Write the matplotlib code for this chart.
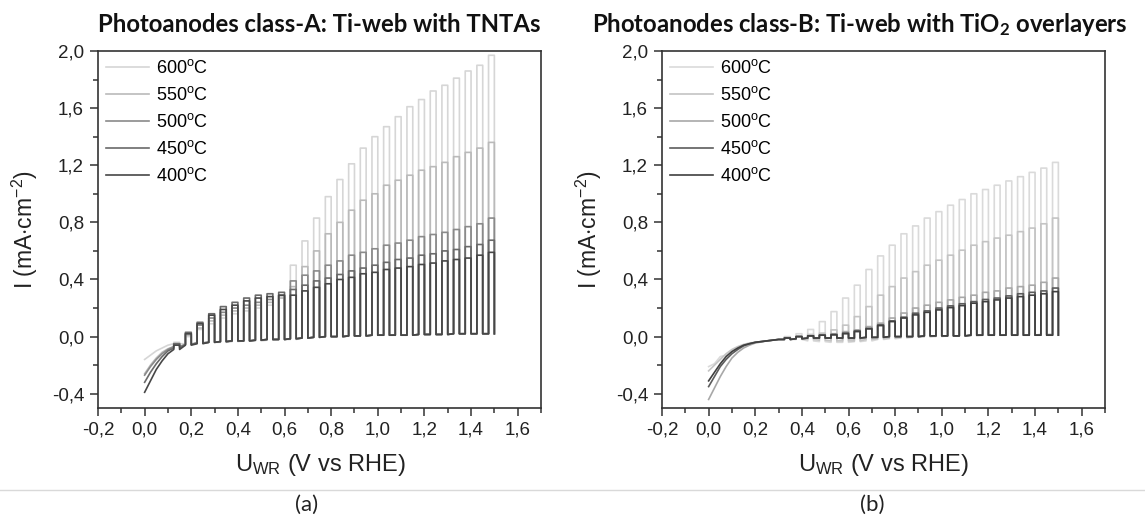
import matplotlib
matplotlib.use("Agg")
import matplotlib.pyplot as plt
from matplotlib.lines import Line2D
from matplotlib.ticker import MultipleLocator, FuncFormatter

plt.rcParams["font.family"] = ["Liberation Sans", "DejaVu Sans"]
plt.rcParams["mathtext.fontset"] = "custom"
plt.rcParams["mathtext.rm"] = "Liberation Sans"
plt.rcParams["mathtext.it"] = "Liberation Sans:italic"
plt.rcParams["mathtext.bf"] = "Lato:bold"

# Chopped illumination: light switched on at each voltage below for 0.025 V
chop_on = [0.025, 0.075, 0.125, 0.175, 0.225, 0.275, 0.325, 0.375, 0.425, 0.475,
           0.525, 0.575, 0.625, 0.675, 0.725, 0.775, 0.825, 0.875, 0.925, 0.975,
           1.025, 1.075, 1.125, 1.175, 1.225, 1.275, 1.325, 1.375, 1.425, 1.475]
chop_width = 0.025

temps = ["600", "550", "500", "450", "400"]

# ---- class-A (Ti-web with TNTAs), mA/cm2 ----
# continuous part of the sweep before chopping shows up
a_sweep_v = [0.0, 0.025, 0.05, 0.075, 0.1]
a_sweep_600 = [-0.16, -0.13, -0.10, -0.08, -0.06]
a_sweep_550 = [-0.26, -0.20, -0.15, -0.11, -0.085]
a_sweep_500 = [-0.27, -0.21, -0.16, -0.12, -0.09]
a_sweep_450 = [-0.32, -0.25, -0.19, -0.14, -0.10]
a_sweep_400 = [-0.39, -0.31, -0.23, -0.17, -0.12]
a_first = 2  # first chop cycle drawn (0.125 V)

# light-on / dark current for each chop cycle from 0.125 V
a_on_600 = [-0.04, 0.00, 0.05, 0.09, 0.13, 0.16, 0.18, 0.20, 0.22, 0.28, 0.50, 0.67, 0.83,
            0.98, 1.10, 1.21, 1.32, 1.40, 1.47, 1.54, 1.61, 1.66, 1.72, 1.76, 1.81, 1.86, 1.90, 1.97]
a_off_600 = [-0.05, -0.05, -0.04, -0.04, -0.04, -0.035, -0.03, -0.03, -0.025, -0.02, -0.02, -0.01, -0.005,
             0.0, 0.0, 0.005, 0.005, 0.01, 0.01, 0.01, 0.01, 0.015, 0.015, 0.015, 0.02, 0.02, 0.02, 0.02]
a_on_550 = [-0.05, 0.01, 0.06, 0.11, 0.15, 0.18, 0.20, 0.22, 0.24, 0.27, 0.35, 0.49, 0.60,
            0.72, 0.80, 0.885, 0.955, 1.00, 1.06, 1.095, 1.13, 1.165, 1.19, 1.22, 1.26, 1.29, 1.32, 1.36]
a_off_550 = [-0.07, -0.055, -0.045, -0.04, -0.035, -0.03, -0.03, -0.025, -0.02, -0.02, -0.015, -0.01, -0.005,
             0.0, 0.0, 0.005, 0.005, 0.01, 0.01, 0.01, 0.01, 0.015, 0.015, 0.015, 0.02, 0.02, 0.02, 0.02]
a_on_500 = [-0.05, 0.02, 0.08, 0.13, 0.17, 0.20, 0.22, 0.24, 0.26, 0.29, 0.39, 0.43, 0.46,
            0.50, 0.53, 0.57, 0.59, 0.615, 0.64, 0.655, 0.675, 0.70, 0.715, 0.73, 0.75, 0.77, 0.79, 0.83]
a_off_500 = [-0.07, -0.055, -0.045, -0.04, -0.035, -0.03, -0.03, -0.025, -0.02, -0.02, -0.015, -0.01, -0.005,
             0.0, 0.0, 0.005, 0.005, 0.01, 0.01, 0.01, 0.01, 0.015, 0.015, 0.015, 0.02, 0.02, 0.02, 0.02]
a_on_450 = [-0.05, 0.03, 0.10, 0.16, 0.21, 0.24, 0.27, 0.29, 0.30, 0.31, 0.33, 0.36, 0.39,
            0.41, 0.435, 0.46, 0.48, 0.50, 0.52, 0.54, 0.55, 0.57, 0.58, 0.60, 0.61, 0.63, 0.645, 0.675]
a_off_450 = [-0.08, -0.055, -0.045, -0.04, -0.035, -0.03, -0.03, -0.025, -0.02, -0.02, -0.015, -0.01, -0.005,
             0.0, 0.0, 0.005, 0.005, 0.01, 0.01, 0.01, 0.01, 0.015, 0.015, 0.015, 0.02, 0.02, 0.02, 0.02]
a_on_400 = [-0.06, 0.02, 0.09, 0.15, 0.19, 0.22, 0.25, 0.27, 0.28, 0.29, 0.29, 0.32, 0.345,
            0.37, 0.40, 0.415, 0.44, 0.45, 0.47, 0.48, 0.49, 0.505, 0.515, 0.53, 0.54, 0.55, 0.57, 0.59]
a_off_400 = [-0.09, -0.06, -0.05, -0.04, -0.035, -0.03, -0.03, -0.025, -0.02, -0.02, -0.015, -0.01, -0.005,
             0.0, 0.0, 0.005, 0.005, 0.01, 0.01, 0.01, 0.01, 0.015, 0.015, 0.015, 0.02, 0.02, 0.02, 0.02]

# ---- class-B (Ti-web with TiO2 overlayers), mA/cm2 ----
b_sweep_v = [0.0, 0.025, 0.05, 0.075, 0.1, 0.125, 0.15, 0.175, 0.2, 0.25, 0.3]
b_sweep_600 = [-0.21, -0.19, -0.14, -0.13, -0.10, -0.08, -0.06, -0.05, -0.04, -0.03, -0.02]
b_sweep_550 = [-0.24, -0.20, -0.16, -0.12, -0.09, -0.07, -0.055, -0.045, -0.04, -0.03, -0.02]
b_sweep_500 = [-0.44, -0.36, -0.28, -0.21, -0.15, -0.11, -0.08, -0.06, -0.045, -0.03, -0.02]
b_sweep_450 = [-0.35, -0.28, -0.21, -0.16, -0.12, -0.09, -0.065, -0.05, -0.04, -0.03, -0.02]
b_sweep_400 = [-0.31, -0.25, -0.19, -0.14, -0.105, -0.08, -0.06, -0.05, -0.04, -0.03, -0.02]
b_first = 6  # first chop cycle drawn (0.325 V)

b_on_600 = [0.0, 0.02, 0.05, 0.105, 0.175, 0.27, 0.36, 0.47, 0.565,
            0.64, 0.72, 0.775, 0.83, 0.875, 0.92, 0.96, 1.00, 1.03, 1.06, 1.09, 1.12, 1.15, 1.18, 1.22]
b_off_600 = [-0.02, -0.02, -0.03, -0.035, -0.04, -0.04, -0.035, -0.03, -0.02,
             -0.015, -0.01, -0.005, 0.0, 0.0, 0.005, 0.005, 0.005, 0.01, 0.01, 0.01, 0.01, 0.01, 0.015, 0.015]
b_on_550 = [-0.005, 0.005, 0.015, 0.024, 0.047, 0.08, 0.14, 0.21, 0.29,
            0.35, 0.41, 0.455, 0.50, 0.535, 0.57, 0.605, 0.64, 0.665, 0.69, 0.71, 0.735, 0.76, 0.79, 0.83]
b_off_550 = [-0.02, -0.015, -0.02, -0.025, -0.03, -0.03, -0.03, -0.02, -0.015,
             -0.01, -0.005, 0.0, 0.0, 0.005, 0.005, 0.005, 0.01, 0.01, 0.01, 0.01, 0.01, 0.01, 0.015, 0.015]
b_on_500 = [-0.01, 0.0, 0.005, 0.01, 0.02, 0.035, 0.047, 0.07, 0.094,
            0.13, 0.165, 0.20, 0.22, 0.24, 0.257, 0.275, 0.29, 0.31, 0.32, 0.34, 0.35, 0.36, 0.38, 0.41]
b_off_500 = [-0.02, -0.015, -0.01, -0.01, -0.01, -0.015, -0.015, -0.01, -0.005,
             0.0, 0.0, 0.0, 0.005, 0.005, 0.005, 0.005, 0.01, 0.01, 0.01, 0.01, 0.01, 0.01, 0.01, 0.01]
b_on_450 = [-0.01, 0.0, 0.005, 0.01, 0.015, 0.025, 0.04, 0.058, 0.082,
            0.11, 0.136, 0.164, 0.18, 0.20, 0.215, 0.23, 0.245, 0.26, 0.27, 0.285, 0.30, 0.31, 0.32, 0.34]
b_off_450 = [-0.02, -0.015, -0.01, -0.01, -0.01, -0.01, -0.01, -0.005, -0.005,
             0.0, 0.0, 0.0, 0.005, 0.005, 0.005, 0.005, 0.01, 0.01, 0.01, 0.01, 0.01, 0.01, 0.01, 0.01]
b_on_400 = [-0.01, 0.0, 0.005, 0.01, 0.012, 0.02, 0.035, 0.054, 0.077,
            0.105, 0.13, 0.152, 0.17, 0.187, 0.203, 0.217, 0.234, 0.245, 0.257, 0.27, 0.28, 0.29, 0.30, 0.315]
b_off_400 = [-0.02, -0.015, -0.01, -0.01, -0.01, -0.01, -0.01, -0.005, -0.005,
             0.0, 0.0, 0.0, 0.005, 0.005, 0.005, 0.005, 0.01, 0.01, 0.01, 0.01, 0.01, 0.01, 0.01, 0.01]

a_sweep = [a_sweep_600, a_sweep_550, a_sweep_500, a_sweep_450, a_sweep_400]
a_on = [a_on_600, a_on_550, a_on_500, a_on_450, a_on_400]
a_off = [a_off_600, a_off_550, a_off_500, a_off_450, a_off_400]
b_sweep = [b_sweep_600, b_sweep_550, b_sweep_500, b_sweep_450, b_sweep_400]
b_on = [b_on_600, b_on_550, b_on_500, b_on_450, b_on_400]
b_off = [b_off_600, b_off_550, b_off_500, b_off_450, b_off_400]

a_colors = ["#d6d6d6", "#bababa", "#8a8a8a", "#6a6a6a", "#474747"]
b_colors = ["#dadada", "#c4c4c4", "#a8a8a8", "#5c5c5c", "#404040"]


def chopped_trace(sweep_v, sweep_i, first, on, off):
    # smooth dark sweep, then square-wave path: dark level, photocurrent, dark
    v = list(sweep_v)
    i = list(sweep_i)
    for k, t0 in enumerate(chop_on[first:]):
        t1 = t0 + chop_width
        v += [t0, t0, t1, t1]
        i += [off[k], on[k], on[k], off[k]]
    return v, i


def comma(x, pos):
    s = "%.1f" % x
    if s == "-0.0":
        s = "0.0"
    return s.replace(".", ",")


W, H = 1145, 516
fig = plt.figure(figsize=(W / 100, H / 100), dpi=100)


def px_axes(x0, x1, y0, y1):
    return fig.add_axes([x0 / W, 1 - y1 / H, (x1 - x0) / W, (y1 - y0) / H])


def ftext(x, y, s, **kw):
    fig.text(x / W, 1 - y / H, s, ha="center", va="center", **kw)


def panel(ax, sweep_v, sweep, first, on, off, colors):
    for s, o, f, c, t in zip(sweep, on, off, colors, temps):
        v, i = chopped_trace(sweep_v, s, first, o, f)
        ax.plot(v, i, color=c, lw=1.2, label=t + r"$^{\mathrm{o}}$C")
    ax.set_xlim(-0.2, 1.7)
    ax.set_ylim(-0.5, 2.0)
    ax.xaxis.set_major_locator(MultipleLocator(0.2))
    ax.xaxis.set_minor_locator(MultipleLocator(0.1))
    ax.yaxis.set_major_locator(MultipleLocator(0.4))
    ax.yaxis.set_minor_locator(MultipleLocator(0.2))
    ax.xaxis.set_major_formatter(FuncFormatter(comma))
    ax.yaxis.set_major_formatter(FuncFormatter(comma))
    ax.tick_params(which="both", direction="out", width=1.1, color="#333333",
                   labelsize=13.5, labelcolor="#222222", top=False, right=False)
    ax.tick_params(which="major", length=6, pad=4)
    ax.tick_params(which="minor", length=3.5)
    for sp in ax.spines.values():
        sp.set_linewidth(1.2)
        sp.set_color("#333333")
    ax.legend(loc="upper left", bbox_to_anchor=(0.0, 1.0), frameon=False,
              fontsize=13, handlelength=2.4, handletextpad=0.35,
              labelspacing=0.5, borderaxespad=0.3, borderpad=0.15)


ax_a = px_axes(98, 541, 51, 408)
ax_b = px_axes(662, 1105, 51, 408)
panel(ax_a, a_sweep_v, a_sweep, a_first, a_on, a_off, a_colors)
panel(ax_b, b_sweep_v, b_sweep, b_first, b_on, b_off, b_colors)

title_kw = dict(family="Lato", fontweight="bold", fontsize=17.2, color="#111111")
ftext(319, 24, "Photoanodes class-A: Ti-web with TNTAs", **title_kw)
ftext(860, 24, r"Photoanodes class-B: Ti-web with TiO$_\mathbf{2}$ overlayers", **title_kw)

lab_kw = dict(color="#222222")
ftext(320, 465, r"U$_{\mathrm{WR}}$ (V vs RHE)", fontsize=17, **lab_kw)
ftext(883, 465, r"U$_{\mathrm{WR}}$ (V vs RHE)", fontsize=17, **lab_kw)
ftext(25, 230, r"I (mA$\cdot$cm$^{\mathrm{-2}}$)", rotation=90, fontsize=16.5, **lab_kw)
ftext(589, 230, r"I (mA$\cdot$cm$^{\mathrm{-2}}$)", rotation=90, fontsize=16.5, **lab_kw)

fig.add_artist(Line2D([0, 1], [1 - 490 / H, 1 - 490 / H], transform=fig.transFigure,
                      color="#d9d9d9", lw=1.0))
ftext(307, 505, "(a)", family="Lato", fontsize=16, color="#222222")
ftext(872, 505, "(b)", family="Lato", fontsize=16, color="#222222")

fig.savefig("out.png", dpi=100)
